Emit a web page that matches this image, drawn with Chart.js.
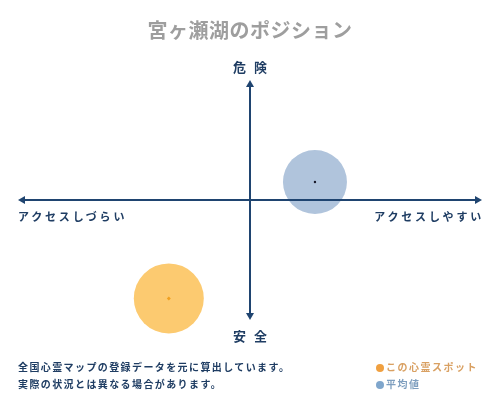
<!DOCTYPE html>
<html><head><meta charset="utf-8">
<script src="https://cdn.jsdelivr.net/npm/chart.js@4"></script>
<style>
html,body{margin:0;padding:0;background:#fff;}
#wrap{position:relative;width:500px;height:400px;overflow:hidden;font-family:"Noto Sans CJK JP","Noto Sans",sans-serif;}
#c{position:absolute;left:0;top:0;}
.t{position:absolute;white-space:nowrap;line-height:1;}
</style></head>
<body><div id="wrap">
<canvas id="c" width="500" height="400"></canvas>
<div class="t" id="title" style="left:0;width:500px;top:20px;text-align:center;font-size:20px;font-weight:bold;color:#9e9e9e;letter-spacing:0.5px;"></div>
<div class="t" id="yTop" style="left:0;width:500px;top:60px;text-align:center;font-size:13px;font-weight:bold;color:#1f3d63;"></div>
<div class="t" id="yBot" style="left:0;width:500px;top:329px;text-align:center;font-size:13px;font-weight:bold;color:#1f3d63;"></div>
<div class="t" id="xLeft" style="left:18px;top:211px;font-size:11px;font-weight:bold;color:#1f3d63;letter-spacing:2.8px;"></div>
<div class="t" id="xRight" style="right:16px;top:211px;font-size:11px;font-weight:bold;color:#1f3d63;letter-spacing:2.8px;"></div>
<div class="t" id="note1" style="left:18px;top:362px;font-size:10px;font-weight:bold;color:#1f3d63;letter-spacing:1.4px;"></div>
<div class="t" id="note2" style="left:18px;top:379px;font-size:10px;font-weight:bold;color:#1f3d63;letter-spacing:1.4px;"></div>
<div class="t" id="leg1" style="left:376px;top:362px;font-size:10px;font-weight:bold;color:#d9a062;letter-spacing:1.5px;"></div>
<div class="t" id="leg2" style="left:376px;top:379px;font-size:10px;font-weight:bold;color:#7f9fbf;letter-spacing:1.5px;"></div>
</div>
<script>
const titleText = "宮ヶ瀬湖のポジション";
const axisTop = "危 険";
const axisBottom = "安 全";
const axisLeft = "アクセスしづらい";
const axisRight = "アクセスしやすい";
const notes = ["全国心霊マップの登録データを元に算出しています。", "実際の状況とは異なる場合があります。"];
const legendLabels = ["この心霊スポット", "平均値"];

// positions on a -10..10 scale (x: access, y: danger)
const spotX = [-3.5];
const spotY = [-8.2];
const spotR = [35];
const avgX = [2.8];
const avgY = [1.5];
const avgR = [32];
const axisMin = -10, axisMax = 10;

document.getElementById('title').textContent = titleText;
document.getElementById('yTop').innerHTML = '<span>' + axisTop.replace(' ', '</span><span style="display:inline-block;width:8px"></span><span>') + '</span>';
document.getElementById('yBot').innerHTML = '<span>' + axisBottom.replace(' ', '</span><span style="display:inline-block;width:8px"></span><span>') + '</span>';
document.getElementById('xLeft').textContent = axisLeft;
document.getElementById('xRight').textContent = axisRight;
document.getElementById('note1').textContent = notes[0];
document.getElementById('note2').textContent = notes[1];
document.getElementById('leg1').innerHTML = '<span style="display:inline-block;width:8px;height:8px;border-radius:50%;background:#f0a040;margin-right:2px;vertical-align:-1px"></span>' + legendLabels[0];
document.getElementById('leg2').innerHTML = '<span style="display:inline-block;width:8px;height:8px;border-radius:50%;background:#7fa6cc;margin-right:2px;vertical-align:-1px"></span>' + legendLabels[1];

const toPts = (xs, ys, rs) => xs.map((x, i) => ({x: x, y: ys[i], r: rs ? rs[i] : 1.5}));

const axisPlugin = {
  id: 'axes',
  afterDatasetsDraw(chart) {
    const ctx = chart.ctx, xs = chart.scales.x, ys = chart.scales.y;
    const x0 = xs.getPixelForValue(0), y0 = ys.getPixelForValue(0);
    const l = xs.getPixelForValue(axisMin), r = xs.getPixelForValue(axisMax);
    const t = ys.getPixelForValue(axisMax), b = ys.getPixelForValue(axisMin);
    ctx.save();
    ctx.strokeStyle = '#1f4470'; ctx.fillStyle = '#1f4470'; ctx.lineWidth = 2;
    ctx.beginPath();
    ctx.moveTo(l + 4, y0); ctx.lineTo(r - 4, y0);
    ctx.moveTo(x0, t + 4); ctx.lineTo(x0, b - 4);
    ctx.stroke();
    const a = 5, w = 4;
    ctx.beginPath(); ctx.moveTo(l, y0); ctx.lineTo(l + a + 2, y0 - w); ctx.lineTo(l + a + 2, y0 + w); ctx.closePath(); ctx.fill();
    ctx.beginPath(); ctx.moveTo(r, y0); ctx.lineTo(r - a - 2, y0 - w); ctx.lineTo(r - a - 2, y0 + w); ctx.closePath(); ctx.fill();
    ctx.beginPath(); ctx.moveTo(x0, t); ctx.lineTo(x0 - w, t + a + 2); ctx.lineTo(x0 + w, t + a + 2); ctx.closePath(); ctx.fill();
    ctx.beginPath(); ctx.moveTo(x0, b); ctx.lineTo(x0 - w, b - a - 2); ctx.lineTo(x0 + w, b - a - 2); ctx.closePath(); ctx.fill();
    ctx.restore();
  }
};

new Chart(document.getElementById('c'), {
  type: 'bubble',
  data: {
    datasets: [
      {label: legendLabels[1], data: toPts(avgX, avgY, avgR), backgroundColor: 'rgba(176,196,220,1)', borderWidth: 0, order: 4},
      {label: legendLabels[0], data: toPts(spotX, spotY, spotR), backgroundColor: 'rgba(252,202,112,1)', borderWidth: 0, order: 3},
      {type: 'scatter', label: 'avg-center', data: toPts(avgX, avgY), pointRadius: 1.2, backgroundColor: '#1a1a2a', borderWidth: 0, order: 2},
      {type: 'scatter', label: 'spot-center', data: toPts(spotX, spotY), pointRadius: 2, pointStyle: 'rectRot', backgroundColor: '#f0a020', borderWidth: 0, order: 1}
    ]
  },
  options: {
    responsive: false, animation: false, devicePixelRatio: 1,
    layout: {autoPadding: false, padding: {left: 18, right: 18, top: 80, bottom: 80}},
    plugins: {legend: {display: false}, tooltip: {enabled: false}, title: {display: false}},
    scales: {
      x: {type: 'linear', min: axisMin, max: axisMax, display: false},
      y: {type: 'linear', min: axisMin, max: axisMax, display: false}
    },
    clip: false
  },
  plugins: [axisPlugin]
});
</script>
</body></html>
